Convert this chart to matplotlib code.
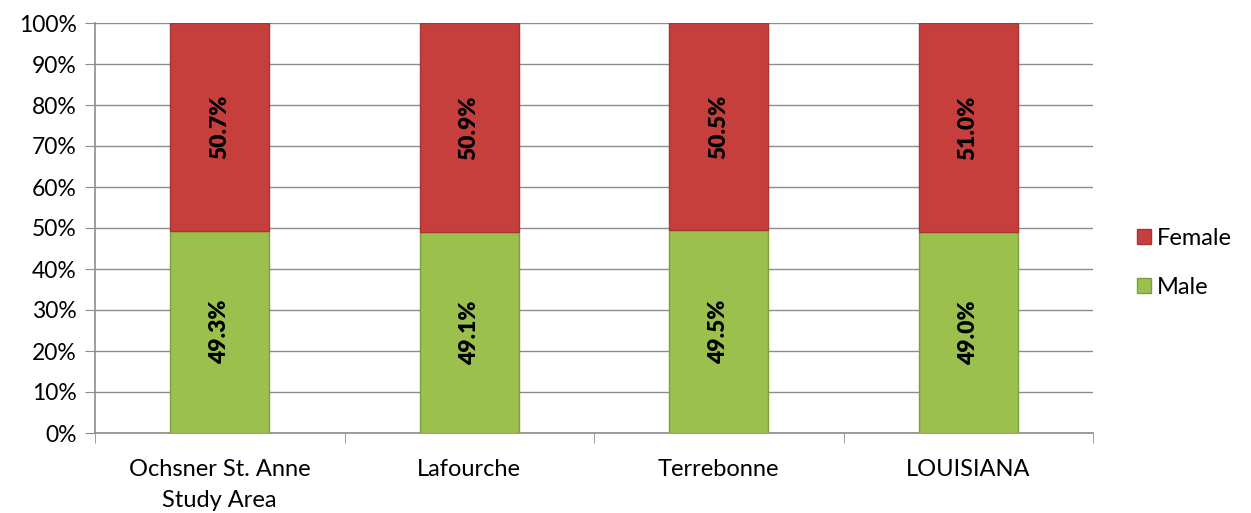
import matplotlib
matplotlib.use("Agg")
import matplotlib.pyplot as plt
import numpy as np
from matplotlib.patches import Patch

categories = ["Ochsner St. Anne\nStudy Area", "Lafourche", "Terrebonne", "LOUISIANA"]
male = [49.3, 49.1, 49.5, 49.0]
female = [50.7, 50.9, 50.5, 51.0]
yticks = list(range(0, 101, 10))

plt.rcParams['font.family'] = ['Lato', 'DejaVu Sans']

fig = plt.figure(figsize=(12.51, 5.13), dpi=100)
ax = fig.add_axes([95/1251, 1-433/513, 998/1251, 410/513])

x = np.arange(len(categories))
green = "#9BC04E"
red = "#C73F3C"
w = 0.397
ax.bar(x, male, width=w, color=green, edgecolor="#7E9E3C", linewidth=1.0, zorder=3)
ax.bar(x, female, width=w, bottom=male, color=red, edgecolor="#A83532", linewidth=1.0, zorder=3)

for i in range(len(categories)):
    ax.text(x[i], male[i]/2, f"{male[i]:.1f}%", rotation=90, ha="center", va="center",
            fontsize=16.5, fontweight="heavy", color="black", zorder=4)
    ax.text(x[i], male[i] + female[i]/2, f"{female[i]:.1f}%", rotation=90, ha="center", va="center",
            fontsize=16.5, fontweight="heavy", color="black", zorder=4)

ax.set_xlim(-0.5, len(categories) - 0.5)
ax.set_ylim(0, 100)
ax.set_yticks(yticks)
ax.set_yticklabels([f"{t}%" for t in yticks], fontsize=16.5)
ax.yaxis.grid(True, color="#8C8C8C", linewidth=1.0, zorder=0)
ax.set_axisbelow(True)

ax.set_xticks(x)
ax.set_xticklabels(categories, fontsize=17, linespacing=1.55)
ax.set_xticks(np.arange(-0.5, len(categories)), minor=True)
ax.tick_params(axis="x", which="major", length=0, pad=19)
ax.tick_params(axis="x", which="minor", length=7, color="#8C8C8C", direction="out")
ax.tick_params(axis="y", length=7, color="#8C8C8C", direction="out", pad=6)

for s in ["top", "right"]:
    ax.spines[s].set_visible(False)
for s in ["left", "bottom"]:
    ax.spines[s].set_color("#8C8C8C")
    ax.spines[s].set_linewidth(1.2)

handles = [Patch(facecolor=red, edgecolor="#A83532", label="Female"),
           Patch(facecolor=green, edgecolor="#7E9E3C", label="Male")]
fig.legend(handles=handles, loc="center left", bbox_to_anchor=(1137/1251, 1-263/513),
           frameon=False, fontsize=17, handlelength=0.6, handleheight=0.6,
           handletextpad=0.25, labelspacing=1.2, borderaxespad=0, borderpad=0)

fig.savefig("out.png", dpi=100)
